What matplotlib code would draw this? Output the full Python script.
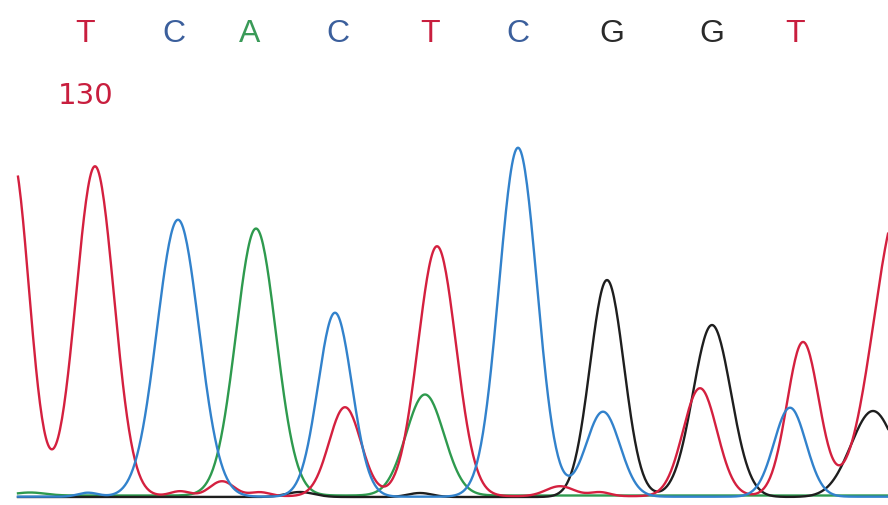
import numpy as np
import matplotlib
matplotlib.use("Agg")
import matplotlib.pyplot as plt

# Base calls shown above the trace, with their scan positions
bases = ["T", "C", "A", "C", "T", "C", "G", "G", "T"]
base_pos = [85, 174, 250, 338, 430, 518, 612, 712, 795]
position_label = "130"
position_x = 86

# Peaks per dye channel: scan position, signal height, peak width
t_pos = [12, 95, 180, 222, 260, 345, 437, 560, 600, 700, 803, 900]
t_height = [340, 330, 5, 15, 4, 89, 250, 10, 4, 108, 154, 292]
t_width = [17, 19, 10, 12, 10, 16, 19, 14, 10, 17, 16, 26]

c_pos = [88, 178, 335, 518, 603, 790]
c_height = [4, 277, 184, 349, 85, 89]
c_width = [10, 21, 17, 19, 17, 16]

a_pos = [30, 256, 425]
a_height = [3, 267, 101]
a_width = [15, 20, 19]

g_pos = [300, 420, 607, 712, 873]
g_height = [5, 4, 217, 172, 86]
g_width = [14, 12, 17, 19, 22]

colors = {"T": "#d4203f", "C": "#3282cc", "A": "#2e9a4e", "G": "#1e1e1e"}
text_colors = {"T": "#c81e3e", "C": "#3b5f9c", "A": "#3a9a58", "G": "#2a2a2a"}

scan = np.arange(18, 889, 1.0)


def trace(pos, height, width):
    y = np.zeros_like(scan)
    for p, h, w in zip(pos, height, width):
        y += h * np.exp(-0.5 * ((scan - p) / w) ** 2)
    return y


fig = plt.figure(figsize=(8.88, 5.05), dpi=100)
ax = fig.add_axes([0, 0, 1, 1])
ax.set_xlim(0, 888)
ax.set_ylim(-8, 497)
ax.axis("off")

channels = [("A", a_pos, a_height, a_width, 1.5),
            ("G", g_pos, g_height, g_width, 0.0),
            ("T", t_pos, t_height, t_width, 0.8),
            ("C", c_pos, c_height, c_width, 0.3)]
for base, pos, height, width, offset in channels:
    ax.plot(scan, trace(pos, height, width) + offset, color=colors[base],
            lw=1.7, solid_joinstyle="round")

for b, x in zip(bases, base_pos):
    ax.text(x, 463, b, color=text_colors[b], fontsize=23,
            family="Liberation Sans", ha="center", va="center")

ax.text(position_x, 401, position_label, color=text_colors["T"], fontsize=21,
        family="DejaVu Sans", ha="center", va="center")

fig.savefig("out.png", dpi=100)
